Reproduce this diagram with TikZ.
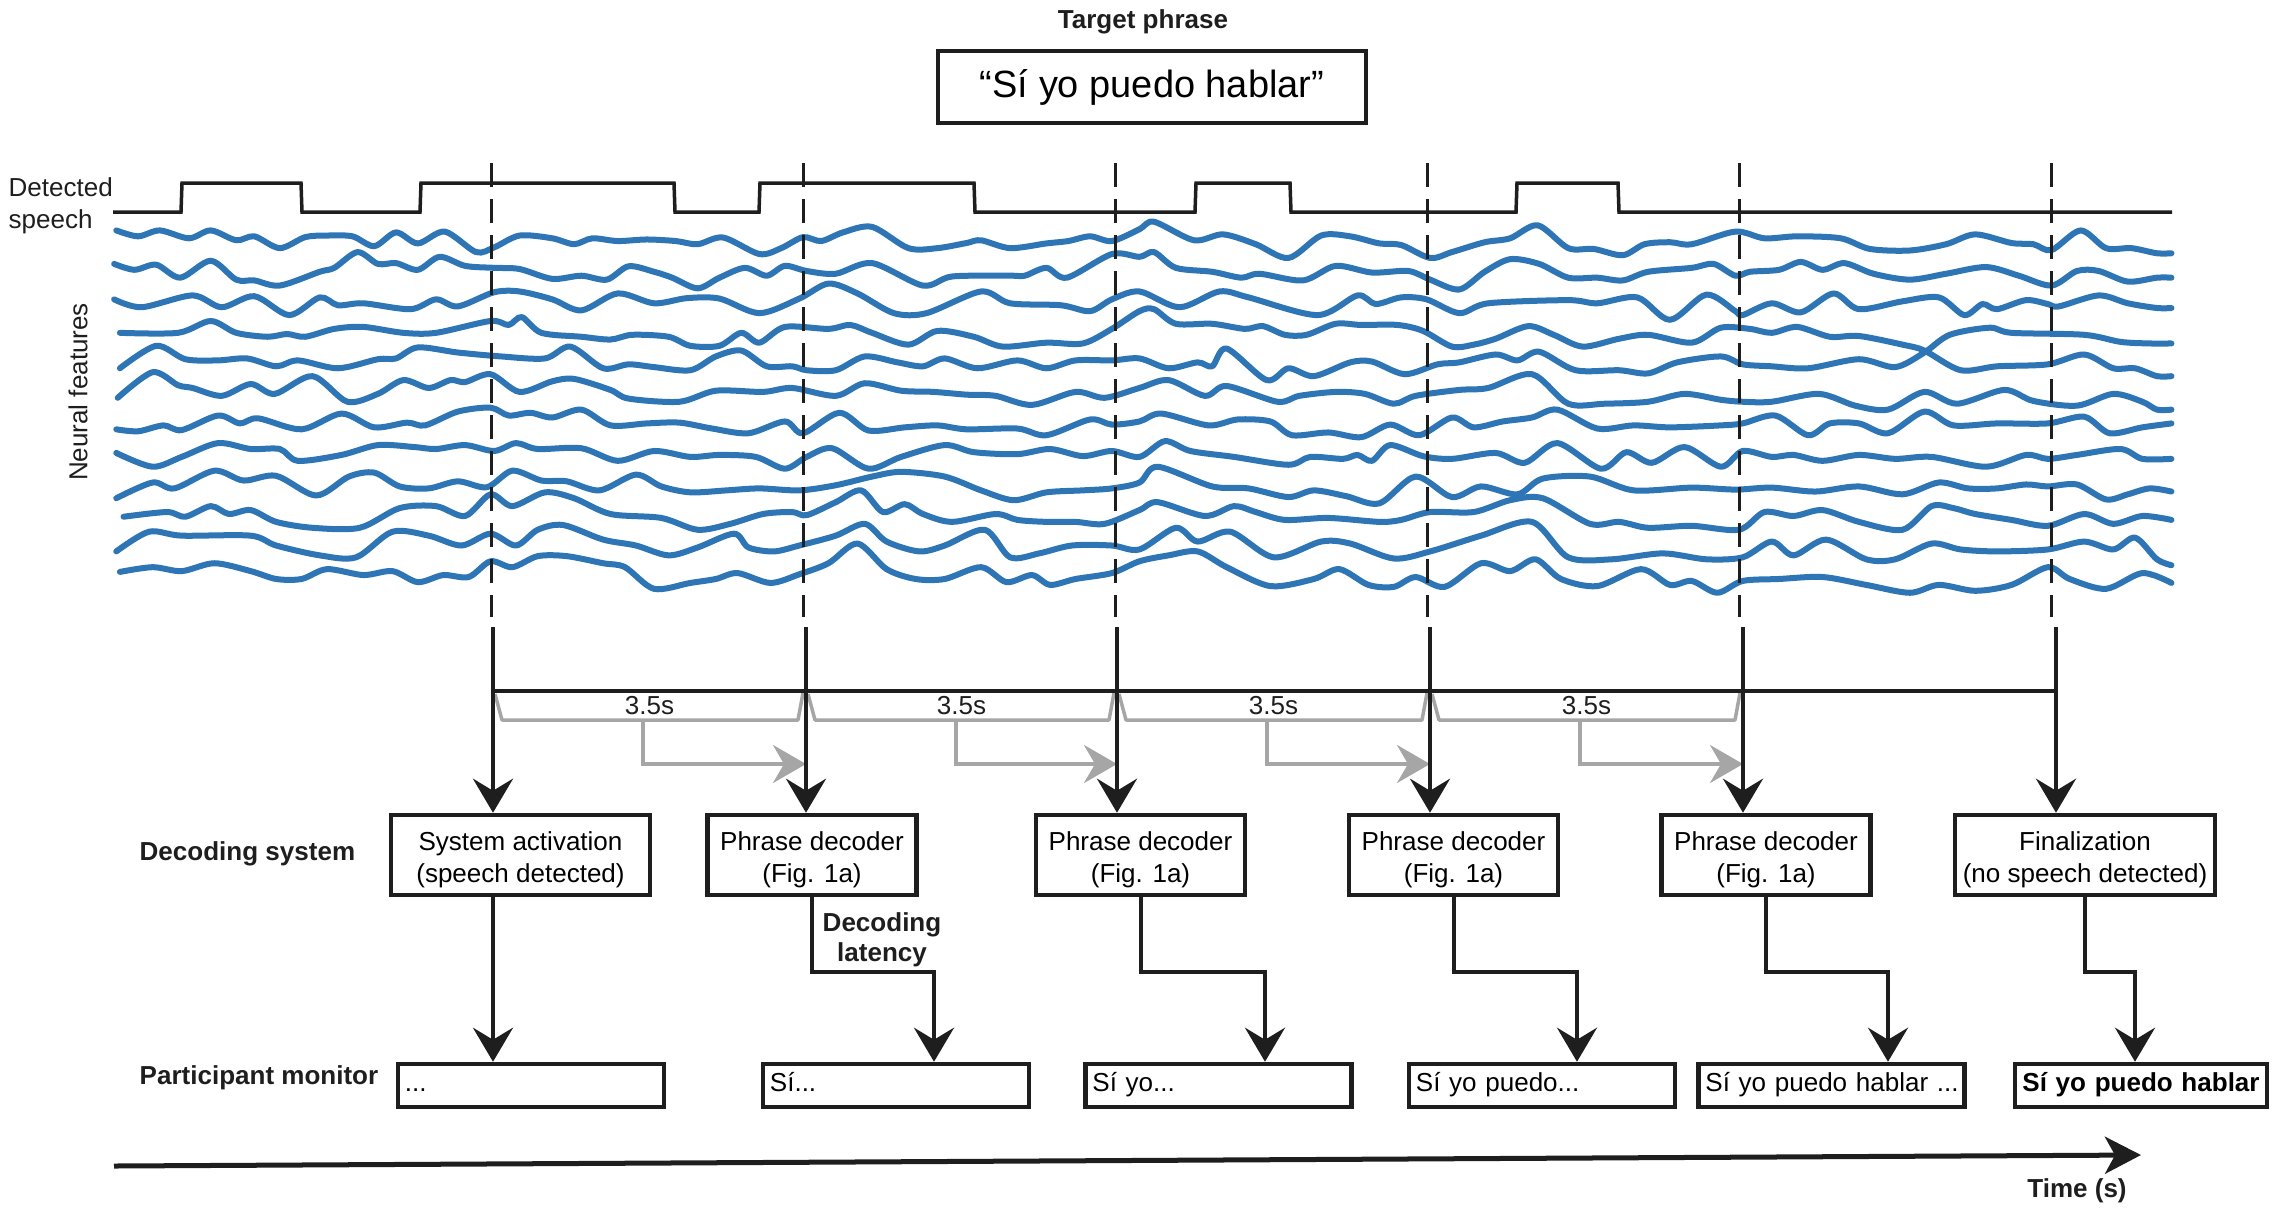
\documentclass[tikz,border=0pt]{standalone}
\usepackage{fontspec}
\setmainfont{Liberation Sans}
\usetikzlibrary{arrows.meta,calc}
\definecolor{wblue}{RGB}{46,117,182}
\definecolor{lgray}{RGB}{166,166,166}
\definecolor{ink}{RGB}{30,30,30}
\newcommand\myfs{\fontsize{7.4}{9.1}\selectfont}
\begin{document}
\begin{tikzpicture}[x=0.01cm,y=-0.01cm,
  blk/.style={line width=0.04cm, draw=ink},
  arr/.style={-{Stealth[length=0.34cm,width=0.40cm,inset=0.12cm]}},
  garr/.style={-{Stealth[length=0.33cm,width=0.38cm,inset=0.11cm]}},
  gr/.style={line width=0.035cm, draw=lgray},
  dsh/.style={line width=0.03cm, draw=ink, dash pattern=on 0.24cm off 0.12cm},
  wave/.style={line width=0.06cm, draw=wblue, line cap=round, line join=round},
  dbox/.style={draw=ink, line width=0.045cm, minimum height=0.80cm, inner sep=0pt, align=center, font=\myfs},
  mbox/.style={draw=ink, line width=0.045cm, minimum height=0.43cm, text width=2.52cm, inner xsep=0.07cm, inner ysep=0pt, align=left, font=\myfs},
  lab/.style={font=\myfs, text=ink},
  blab/.style={font=\myfs\bfseries, text=ink}]
\useasboundingbox (0,0) rectangle (2278,1211);

% title
\node[blab] (tp) at (1143,22) {Target phrase};
\node[draw=ink, line width=0.045cm, minimum width=4.28cm, minimum height=0.72cm, inner sep=0pt, font=\fontsize{10.8}{13}\selectfont] (tbox) at (1152,87) {“Sí yo puedo hablar”};

% left labels
\node[lab, align=left, anchor=west, inner sep=0pt] (dsp) at (8,206) {Detected\\speech};
\node[lab, rotate=90] (nf) at (78,392) {Neural features};

% waves
\begin{scope}[x=0.0072704cm, y=-0.003944cm]
\draw[wave] plot[smooth] coordinates {(160,585) (190,600) (220,585) (260,605) (290,585) (325,610) (350,600) (385,630) (420,602) (450,598) (485,600) (515,625) (545,590) (575,618) (612,588) (655,640) (680,628) (715,598) (760,605) (790,620) (815,605) (850,612) (890,608) (930,612) (960,620) (995,603) (1045,645) (1075,630) (1105,602) (1130,612) (1160,590) (1200,576) (1250,630) (1290,630) (1330,617) (1350,610) (1390,630) (1440,618) (1470,612) (1500,600) (1530,612) (1568,582) (1588,563) (1643,610) (1683,595) (1728,620) (1773,655) (1818,598) (1858,600) (1898,618) (1928,622) (1968,655) (1998,640) (2043,615) (2078,605) (2116,572) (2158,630) (2193,632) (2233,648) (2263,620) (2298,615) (2328,620) (2388,588) (2428,605) (2473,600) (2533,605) (2573,632) (2628,636) (2678,620) (2718,595) (2768,617) (2798,620) (2823,635) (2863,585) (2898,630) (2933,630) (2968,643) (2988,643)};
\draw[wave] plot[smooth] coordinates {(157,670) (185,685) (215,672) (248,705) (290,662) (325,710) (350,712) (385,725) (440,690) (460,680) (492,640) (520,670) (545,668) (575,685) (605,652) (640,675) (680,680) (715,683) (760,708) (800,700) (835,710) (865,676) (900,690) (925,705) (960,732) (990,705) (1025,680) (1055,700) (1080,675) (1110,688) (1150,695) (1200,668) (1270,725) (1310,702) (1390,700) (1410,700) (1440,680) (1468,705) (1530,645) (1568,652) (1588,640) (1618,680) (1668,690) (1708,705) (1733,695) (1793,712) (1838,675) (1888,692) (1938,688) (1968,710) (2008,735) (2043,690) (2078,658) (2118,670) (2158,705) (2198,705) (2233,712) (2268,690) (2328,680) (2358,670) (2388,700) (2408,690) (2448,685) (2478,665) (2508,685) (2538,668) (2578,695) (2628,710) (2678,695) (2733,678) (2778,700) (2823,725) (2858,688) (2888,688) (2928,715) (2968,705) (2988,705)};
\draw[wave] plot[smooth] coordinates {(157,760) (195,780) (265,750) (305,780) (350,752) (398,800) (440,755) (465,775) (500,770) (565,785) (600,760) (630,778) (680,742) (715,740) (760,760) (800,788) (850,745) (900,770) (945,757) (990,758) (1045,795) (1100,758) (1140,720) (1180,745) (1230,795) (1275,795) (1350,740) (1390,770) (1460,775) (1500,790) (1530,760) (1568,740) (1623,780) (1678,740) (1718,755) (1813,800) (1868,750) (1893,772) (1928,755) (1963,760) (2008,795) (2048,770) (2158,762) (2198,770) (2253,755) (2298,812) (2348,748) (2388,790) (2398,800) (2438,770) (2478,793) (2523,745) (2558,785) (2618,765) (2668,755) (2703,800) (2728,772) (2748,785) (2788,762) (2818,772) (2833,778) (2888,750) (2928,770) (2968,782) (2988,782)};
\draw[wave] plot[smooth] coordinates {(165,845) (245,845) (290,815) (325,845) (368,855) (395,848) (420,855) (460,835) (500,830) (555,845) (600,845) (675,815) (700,825) (718,805) (745,845) (800,855) (840,862) (870,850) (920,855) (950,878) (990,878) (1020,845) (1045,870) (1080,830) (1140,835) (1170,825) (1200,845) (1250,875) (1290,840) (1340,855) (1380,880) (1440,870) (1490,872) (1530,835) (1568,790) (1588,785) (1618,822) (1668,822) (1713,835) (1738,828) (1768,850) (1798,850) (1838,822) (1873,825) (1923,825) (1958,840) (1998,880) (2028,875) (2058,860) (2103,828) (2138,850) (2178,880) (2228,860) (2268,850) (2328,870) (2368,832) (2408,835) (2438,845) (2473,830) (2518,855) (2558,853) (2618,875) (2648,890) (2698,940) (2748,930) (2818,925) (2868,900) (2908,935) (2938,935) (2968,955) (2988,955)};
\draw[wave] plot[smooth] coordinates {(165,935) (215,878) (255,912) (300,915) (340,910) (380,930) (410,915) (465,935) (520,912) (545,910) (575,882) (630,895) (690,905) (750,910) (785,880) (830,935) (865,925) (900,932) (950,940) (985,905) (1020,890) (1055,930) (1090,930) (1110,940) (1150,940) (1190,905) (1235,920) (1270,930) (1300,910) (1345,935) (1400,915) (1440,935) (1480,915) (1530,915) (1568,910) (1608,935) (1648,920) (1668,930) (1688,885) (1743,965) (1773,935) (1808,955) (1858,920) (1888,918) (1933,950) (1978,925) (2008,920) (2058,900) (2088,915) (2118,893) (2168,940) (2228,940) (2268,948) (2308,920) (2368,905) (2398,925) (2438,930) (2488,935) (2558,912) (2608,932) (2648,895) (2683,850) (2738,832) (2768,845) (2868,850) (2918,868) (2958,872) (2988,872)};
\draw[wave] plot[smooth] coordinates {(162,1010) (210,945) (245,978) (265,985) (305,1005) (345,975) (378,1000) (430,955) (478,1020) (520,1000) (555,965) (590,985) (620,965) (640,970) (675,950) (715,995) (760,968) (790,962) (840,990) (865,1012) (935,1020) (985,992) (1050,995) (1090,985) (1150,1005) (1190,973) (1240,992) (1285,995) (1330,1002) (1370,1005) (1420,1028) (1480,995) (1520,1010) (1568,985) (1608,965) (1658,1005) (1688,980) (1758,1020) (1788,1005) (1838,995) (1878,1000) (1918,1025) (1948,1005) (2008,990) (2048,985) (2108,950) (2158,1025) (2208,1025) (2268,1020) (2318,1000) (2368,1015) (2398,1020) (2438,1020) (2503,1000) (2553,1030) (2598,1040) (2648,995) (2693,1025) (2758,990) (2798,1018) (2858,1030) (2908,1000) (2948,1020) (2968,1040) (2988,1040)};
\draw[wave] plot[smooth] coordinates {(160,1090) (190,1095) (225,1080) (250,1092) (300,1055) (330,1075) (355,1062) (415,1090) (470,1050) (515,1085) (560,1073) (585,1080) (630,1045) (675,1035) (700,1055) (730,1048) (760,1060) (800,1040) (840,1080) (890,1075) (935,1073) (980,1088) (1030,1100) (1080,1070) (1105,1100) (1155,1048) (1195,1093) (1245,1085) (1290,1080) (1330,1090) (1400,1088) (1440,1105) (1500,1065) (1530,1078) (1568,1070) (1598,1050) (1663,1080) (1703,1065) (1748,1070) (1778,1105) (1828,1098) (1873,1110) (1913,1078) (1953,1105) (1998,1060) (2028,1085) (2068,1070) (2108,1060) (2143,1040) (2198,1088) (2248,1080) (2298,1085) (2368,1080) (2398,1075) (2443,1055) (2488,1105) (2518,1075) (2558,1075) (2598,1100) (2648,1045) (2688,1080) (2748,1075) (2818,1075) (2868,1058) (2903,1100) (2948,1085) (2988,1075)};
\draw[wave] plot[smooth] coordinates {(160,1150) (210,1185) (250,1160) (300,1125) (345,1140) (385,1140) (410,1170) (470,1155) (520,1130) (570,1135) (600,1140) (640,1130) (680,1145) (710,1125) (740,1140) (800,1138) (850,1170) (900,1145) (950,1160) (990,1155) (1040,1160) (1080,1190) (1110,1160) (1145,1138) (1195,1190) (1240,1160) (1300,1130) (1340,1148) (1400,1153) (1445,1140) (1490,1158) (1530,1145) (1568,1160) (1603,1120) (1638,1145) (1698,1160) (1773,1180) (1803,1160) (1848,1165) (1868,1155) (1888,1170) (1913,1130) (1958,1158) (1998,1165) (2058,1150) (2098,1175) (2143,1125) (2203,1190) (2238,1148) (2273,1175) (2318,1135) (2368,1185) (2398,1145) (2438,1160) (2468,1155) (2508,1170) (2558,1155) (2608,1165) (2658,1160) (2733,1185) (2788,1155) (2818,1165) (2858,1155) (2918,1140) (2948,1165) (2988,1165)};
\draw[wave] plot[smooth] coordinates {(160,1265) (210,1225) (240,1240) (295,1195) (335,1220) (380,1208) (435,1258) (480,1210) (515,1200) (550,1235) (590,1240) (630,1222) (670,1237) (705,1195) (745,1220) (780,1222) (825,1245) (875,1205) (910,1235) (950,1250) (1000,1245) (1045,1240) (1100,1245) (1150,1232) (1200,1210) (1240,1198) (1300,1210) (1350,1245) (1395,1270) (1440,1250) (1490,1245) (1530,1240) (1568,1225) (1593,1185) (1668,1235) (1718,1240) (1773,1262) (1808,1245) (1853,1260) (1898,1278) (1948,1210) (1998,1262) (2038,1235) (2088,1255) (2123,1215) (2188,1210) (2248,1245) (2328,1238) (2388,1243) (2438,1238) (2498,1248) (2558,1235) (2618,1255) (2668,1225) (2708,1240) (2748,1240) (2788,1230) (2818,1235) (2858,1230) (2898,1268) (2928,1255) (2958,1240) (2988,1248)};
\draw[wave] plot[smooth] coordinates {(170,1312) (230,1300) (255,1312) (290,1285) (315,1305) (345,1295) (380,1325) (430,1340) (495,1340) (550,1290) (600,1285) (640,1310) (675,1255) (705,1285) (750,1250) (790,1265) (840,1305) (910,1315) (960,1345) (1005,1330) (1050,1305) (1090,1300) (1110,1308) (1150,1275) (1185,1245) (1215,1300) (1245,1280) (1270,1305) (1310,1325) (1370,1305) (1400,1320) (1440,1325) (1480,1325) (1520,1330) (1568,1295) (1593,1275) (1658,1310) (1698,1285) (1728,1300) (1768,1320) (1828,1315) (1898,1325) (1928,1320) (1968,1300) (2028,1300) (2078,1270) (2123,1265) (2188,1330) (2228,1325) (2268,1340) (2328,1335) (2393,1345) (2428,1300) (2468,1310) (2508,1295) (2558,1325) (2618,1345) (2658,1285) (2688,1290) (2718,1305) (2768,1320) (2818,1335) (2868,1305) (2908,1330) (2948,1310) (2988,1320)};
\draw[wave] plot[smooth] coordinates {(160,1400) (205,1350) (250,1360) (345,1360) (380,1385) (440,1410) (490,1415) (540,1350) (590,1360) (635,1385) (675,1355) (710,1385) (740,1345) (775,1333) (830,1370) (875,1385) (920,1410) (960,1390) (1010,1355) (1030,1390) (1065,1400) (1100,1385) (1150,1360) (1190,1330) (1220,1375) (1265,1400) (1300,1385) (1355,1345) (1390,1415) (1430,1405) (1475,1385) (1530,1385) (1568,1395) (1618,1340) (1648,1375) (1693,1350) (1753,1415) (1818,1375) (1858,1380) (1918,1418) (1968,1400) (2038,1360) (2108,1325) (2158,1415) (2218,1420) (2288,1405) (2348,1420) (2398,1415) (2438,1375) (2468,1410) (2513,1370) (2568,1420) (2608,1420) (2658,1380) (2698,1395) (2748,1400) (2818,1395) (2868,1375) (2908,1395) (2938,1365) (2968,1420) (2988,1435)};
\draw[wave] plot[smooth] coordinates {(165,1452) (210,1440) (250,1450) (295,1430) (345,1450) (380,1470) (415,1470) (450,1445) (500,1460) (540,1450) (575,1478) (610,1460) (645,1465) (675,1425) (705,1440) (740,1412) (780,1412) (830,1430) (860,1440) (900,1495) (950,1480) (985,1470) (1015,1455) (1060,1480) (1100,1458) (1140,1430) (1180,1380) (1220,1445) (1260,1470) (1300,1470) (1350,1440) (1385,1478) (1420,1460) (1445,1485) (1480,1470) (1530,1455) (1568,1425) (1608,1410) (1648,1400) (1688,1440) (1748,1488) (1808,1470) (1843,1445) (1883,1485) (1918,1490) (1948,1465) (1988,1490) (2038,1430) (2078,1450) (2113,1420) (2148,1470) (2198,1488) (2258,1445) (2298,1485) (2328,1475) (2363,1505) (2398,1475) (2448,1470) (2508,1465) (2568,1485) (2628,1505) (2668,1485) (2718,1500) (2768,1485) (2818,1440) (2848,1470) (2898,1495) (2948,1455) (2988,1480)};
\end{scope}

% detected speech signal
\draw[line width=0.035cm, draw=ink, line join=miter] (113,212) -- (181,212) -- (182,183) -- (301,183) -- (302,212) -- (420,212) -- (421,183) -- (674,183) -- (675,212) -- (759,212) -- (760,183) -- (974,183) -- (975,212) -- (1195,212) -- (1196,183) -- (1290,183) -- (1291,212) -- (1516,212) -- (1517,183) -- (1618,183) -- (1619,212) -- (2172,212);

% dashed markers
\foreach \x in {491,803,1115,1427,1739,2051}
  \draw[dsh] (\x,163) -- (\x,617);

% timing coordinates
\foreach \i/\x in {1/493,2/806,3/1117,4/1430,5/1743,6/2056} {
  \coordinate (s\i) at (\x,627);
  \coordinate (h\i) at (\x,691);
}

% decoding boxes
\node[dbox, minimum width=2.59cm] (d1) at (520.5,855) {\rule{0pt}{8pt}System activation\\(speech detected)};
\node[dbox, minimum width=2.09cm] (d2) at (812,855) {\rule{0pt}{8pt}Phrase decoder\\(Fig. 1a)};
\node[dbox, minimum width=2.09cm] (d3) at (1140.5,855) {\rule{0pt}{8pt}Phrase decoder\\(Fig. 1a)};
\node[dbox, minimum width=2.09cm] (d4) at (1453.5,855) {\rule{0pt}{8pt}Phrase decoder\\(Fig. 1a)};
\node[dbox, minimum width=2.09cm] (d5) at (1766,855) {\rule{0pt}{8pt}Phrase decoder\\(Fig. 1a)};
\node[dbox, minimum width=2.60cm] (d6) at (2085,855) {\rule{0pt}{8pt}Finalization\\(no speech detected)};

% monitor boxes
\node[mbox] (m1) at (531,1085.5) {\mbox{\strut...}};
\node[mbox] (m2) at (896,1085.5) {\mbox{\strut Sí...}};
\node[mbox] (m3) at (1218.5,1085.5) {\mbox{\strut Sí yo...}};
\node[mbox] (m4) at (1542,1085.5) {\mbox{\strut Sí yo puedo...}};
\node[mbox] (m5) at (1831.5,1085.5) {\mbox{\strut Sí yo puedo hablar ...}};
\node[mbox, text width=2.40cm, inner xsep=0.06cm, align=center, font=\myfs\bfseries] (m6) at (2141,1085.5) {\mbox{\strut Sí yo puedo hablar}};

% row labels
\node[blab, anchor=west, inner sep=0pt] (dsys) at (139,854) {Decoding system};
\node[blab, anchor=west, inner sep=0pt] (pmon) at (139,1078) {Participant monitor};
\node[blab, align=center, font=\fontsize{7.4}{8.5}\selectfont\bfseries] (lat) at (882,940) {Decoding\\latency};

% gray brackets and delay arrows
\foreach \i/\j in {1/2,2/3,3/4,4/5} {
  \draw[gr, line join=round] ($(h\i)+(2,3)$) -- ($(h\i)+(9,29)$) -- ($(h\j)+(-8,29)$) -- ($(h\j)+(-3,2)$);
  \node[lab, inner sep=0pt] (g\i) at ($(h\i)!0.5!(h\j)+(0,15)$) {3.5s};
  \draw[gr, garr] ($(h\i)+(150,29)$) |- ($(h\j)+(0,73)$);
}

% timeline and activation arrows
\draw[blk] (h1) -- (h6);
\foreach \i in {1,...,6}
  \draw[blk, arr] (s\i) -- (s\i |- d\i.north);

% outputs to monitor
\draw[blk, arr] (s1 |- d1.south) -- (s1 |- m1.north);
\coordinate (e2) at (934,972);
\coordinate (e3) at (1265,972);
\coordinate (e4) at (1577,972);
\coordinate (e5) at (1888,972);
\coordinate (e6) at (2135,972);
\foreach \i in {2,...,6}
  \draw[blk, arr] (d\i.south) |- (e\i) -- (e\i |- m\i.north);

% time axis
\coordinate (ta) at (114,1166);
\coordinate (tb) at (2141,1155);
\draw[line width=0.05cm, draw=ink, -{Stealth[length=0.36cm,width=0.37cm,inset=0.1cm]}] (ta) -- (tb);
\node[blab] (time) at (2077,1191) {Time (s)};
\end{tikzpicture}
\end{document}
